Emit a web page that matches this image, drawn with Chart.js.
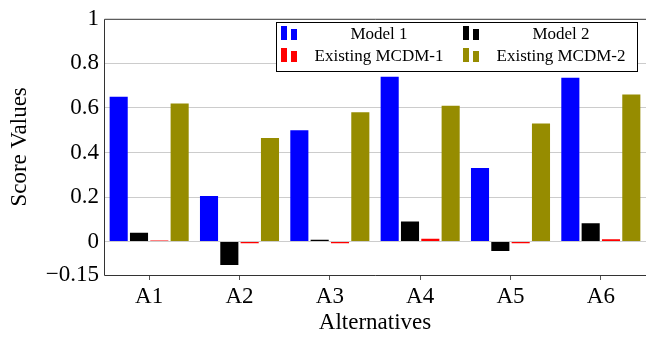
<!DOCTYPE html>
<html>
<head>
<meta charset="utf-8">
<script src="https://cdn.jsdelivr.net/npm/chart.js@4"></script>
<style>
  html, body { margin: 0; padding: 0; background: #fff; }
  #wrap { width: 646px; height: 337px; }
</style>
</head>
<body>
<div id="wrap"><canvas id="chart"></canvas></div>
<script>
// datos del gráfico
const alternativas = ["A1", "A2", "A3", "A4", "A5", "A6"];
const modelo1 = [0.65, 0.205, 0.50, 0.74, 0.33, 0.735];
const modelo2 = [0.04, -0.105, 0.008, 0.09, -0.042, 0.082];
const mcdm1 = [0.005, -0.008, -0.007, 0.013, -0.008, 0.01];
const mcdm2 = [0.62, 0.465, 0.58, 0.61, 0.53, 0.66];
const yTicks = [-0.15, 0, 0.2, 0.4, 0.6, 0.8, 1];

const fuente = "'Liberation Serif', 'DejaVu Serif', serif";

// Marco del área y leyenda estilo pgfplots
const marcoLeyenda = {
    id: "marcoLeyenda",
    afterDatasetsDraw(chart) {
        const ctx = chart.ctx;
        const a = chart.chartArea;
        ctx.save();
        ctx.strokeStyle = "#333";
        ctx.lineWidth = 1;
        ctx.beginPath();
        ctx.moveTo(a.right + 2, a.top + 0.5);
        ctx.lineTo(a.left + 0.5, a.top + 0.5);
        ctx.lineTo(a.left + 0.5, a.bottom + 0.5);
        ctx.lineTo(a.right + 2, a.bottom + 0.5);
        ctx.stroke();

        // leyenda
        const box = { x: 276, y: 22, w: 361, h: 49 };
        ctx.fillStyle = "#fff";
        ctx.fillRect(box.x, box.y, box.w, box.h);
        ctx.strokeStyle = "#000";
        ctx.strokeRect(box.x + 0.5, box.y + 0.5, box.w, box.h);
        ctx.font = "17px " + fuente;
        ctx.textAlign = "center";
        ctx.textBaseline = "middle";
        const pos = [
            { ix: 281, cx: 379, cy: 34 },
            { ix: 463, cx: 561, cy: 34 },
            { ix: 281, cx: 379, cy: 56 },
            { ix: 463, cx: 561, cy: 56 }
        ];
        chart.data.datasets.forEach((ds, i) => {
            const p = pos[i];
            ctx.fillStyle = ds.backgroundColor;
            ctx.fillRect(p.ix, p.cy - 8, 6, 14);
            ctx.fillRect(p.ix + 10, p.cy - 5, 6, 11);
            ctx.fillStyle = "#000";
            ctx.fillText(ds.label, p.cx, p.cy + 1);
        });
        ctx.restore();
    }
};

const ctx = document.getElementById("chart").getContext("2d");
new Chart(ctx, {
    type: "bar",
    data: {
        labels: alternativas,
        datasets: [
            { label: "Model 1", data: modelo1, backgroundColor: "#0000ff" },
            { label: "Model 2", data: modelo2, backgroundColor: "#000000" },
            { label: "Existing MCDM-1", data: mcdm1, backgroundColor: "#ff0000" },
            { label: "Existing MCDM-2", data: mcdm2, backgroundColor: "#968c00" }
        ]
    },
    options: {
        responsive: true,
        maintainAspectRatio: false,
        animation: false,
        layout: { padding: { top: 17, right: 0, left: 0, bottom: 0 } },
        datasets: {
            bar: { categoryPercentage: 0.9, barPercentage: 0.89 }
        },
        plugins: {
            legend: { display: false },
            tooltip: { enabled: false }
        },
        scales: {
            x: {
                offset: true,
                grid: {
                    offset: false,
                    drawOnChartArea: false,
                    drawTicks: true,
                    tickLength: 5,
                    color: "#555"
                },
                border: { display: false },
                ticks: {
                    color: "#000",
                    padding: 3,
                    font: { family: fuente, size: 23 },
                    maxRotation: 0
                },
                title: {
                    display: true,
                    text: "Alternatives",
                    color: "#000",
                    padding: { top: 0, bottom: 0 },
                    font: { family: fuente, size: 23 }
                },
                afterFit(scale) { scale.height = 62; }
            },
            y: {
                min: -0.15,
                max: 1,
                afterBuildTicks(scale) {
                    scale.ticks = yTicks.map(v => ({ value: v }));
                },
                grid: {
                    color: (c) => (c.tick && (c.tick.value === -0.15 || c.tick.value === 1)) ? "rgba(0,0,0,0)" : "#cccccc",
                    drawTicks: false,
                    lineWidth: 1
                },
                border: { display: false },
                ticks: {
                    color: "#000",
                    padding: 5,
                    font: { family: fuente, size: 23 },
                    callback: (v) => v < 0 ? "\u2212" + Math.abs(v) : String(v)
                },
                title: {
                    display: true,
                    text: "Score Values",
                    color: "#000",
                    padding: { top: 6, bottom: 0 },
                    font: { family: fuente, size: 23 }
                },
                afterFit(scale) { scale.width = 104; }
            }
        }
    },
    plugins: [marcoLeyenda]
});
</script>
</body>
</html>
